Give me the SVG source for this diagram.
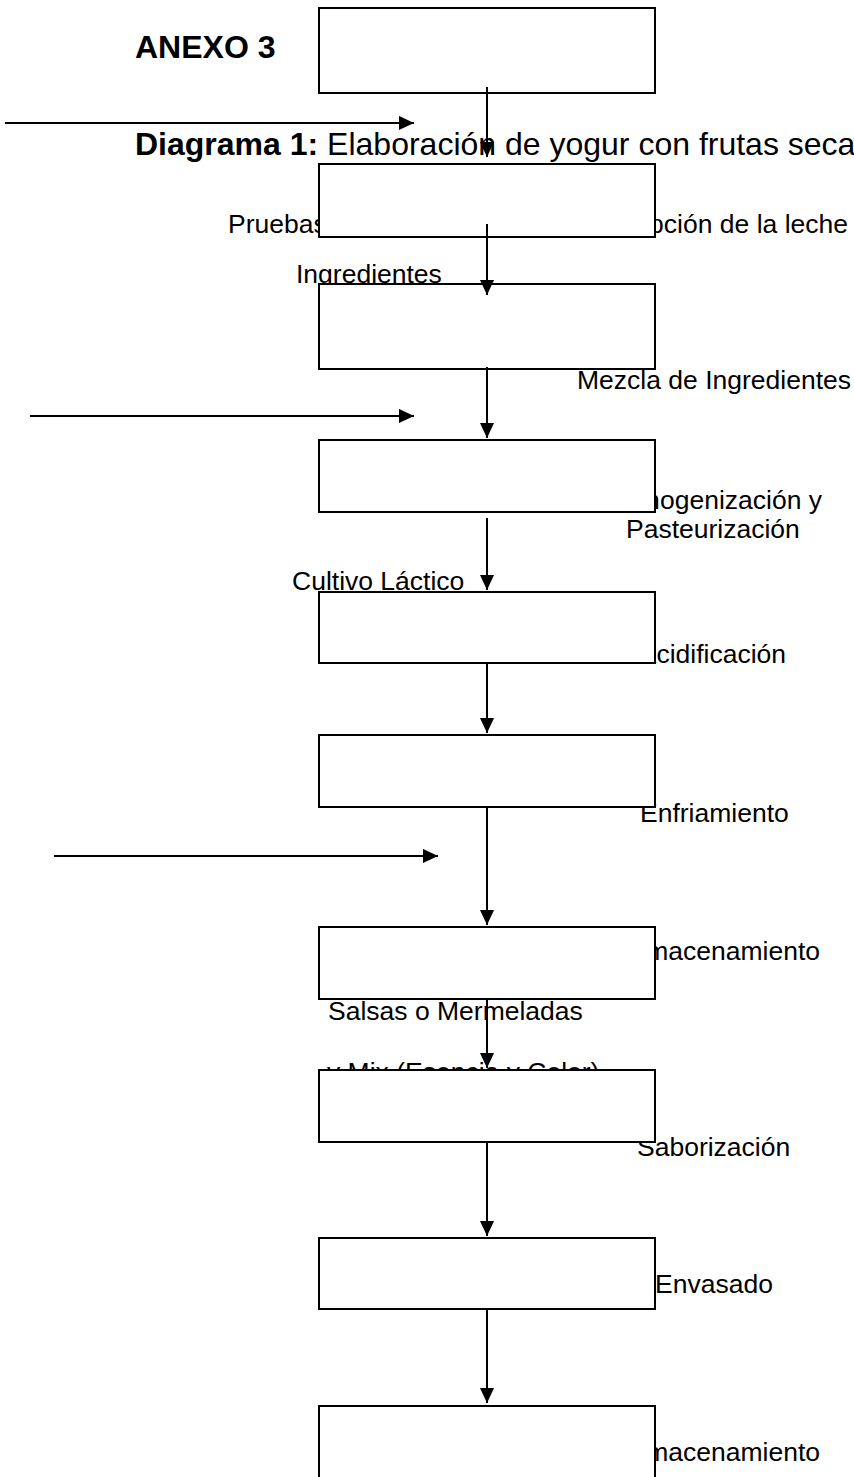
<svg xmlns="http://www.w3.org/2000/svg" width="854" height="1477" viewBox="0 0 854 1477">
<defs>
<style>
.lbl{font-family:"Liberation Sans",Arial,sans-serif;font-size:26.5px;fill:#000}
.ttl{font-family:"Liberation Sans",Arial,sans-serif;font-size:32px;fill:#000}
.box{fill:#fff;stroke:#000;stroke-width:2}
.ln{stroke:#000;stroke-width:2;fill:none}
</style>
<marker id="ah" viewBox="0 0 10 10" refX="10" refY="5" markerWidth="15" markerHeight="15" markerUnits="userSpaceOnUse" orient="auto">
<path d="M0,0.3 L10,5 L0,9.7 z" fill="#000"/>
</marker>
</defs>
<g id="labels">
<text class="ttl" x="135" y="58" font-weight="bold">ANEXO 3</text>
<text class="ttl" x="135" y="155"><tspan font-weight="bold">Diagrama 1:</tspan> Elaboración de yogur con frutas secas</text>
<text class="lbl" x="228" y="233">Pruebas</text>
<text class="lbl" x="848" y="233" text-anchor="end">Recepción de la leche</text>
<text class="lbl" x="296" y="283">Ingredientes</text>
<text class="lbl" x="577" y="389">Mezcla de Ingredientes</text>
<text class="lbl" x="822" y="509" text-anchor="end">Homogenización y</text>
<text class="lbl" x="626" y="538">Pasteurización</text>
<text class="lbl" x="292" y="590">Cultivo Láctico</text>
<text class="lbl" x="786" y="663" text-anchor="end">Acidificación</text>
<text class="lbl" x="640" y="822">Enfriamiento</text>
<text class="lbl" x="820" y="960" text-anchor="end">Almacenamiento</text>
<text class="lbl" x="328" y="1020">Salsas o Mermeladas</text>
<text class="lbl" x="327" y="1081">y Mix (Esencia y Color)</text>
<text class="lbl" x="637" y="1156">Saborización</text>
<text class="lbl" x="655" y="1293">Envasado</text>
<text class="lbl" x="820" y="1461" text-anchor="end">Almacenamiento</text>
</g>
<g id="n1"><rect class="box" x="319" y="8" width="336" height="85"/></g>
<g id="n2"><rect class="box" x="319" y="164" width="336" height="73"/></g>
<g id="n3"><rect class="box" x="319" y="284" width="336" height="85"/></g>
<g id="n4"><rect class="box" x="319" y="440" width="336" height="72"/></g>
<g id="n5"><rect class="box" x="319" y="592" width="336" height="71"/></g>
<g id="n6"><rect class="box" x="319" y="735" width="336" height="72"/></g>
<g id="n7"><rect class="box" x="319" y="927" width="336" height="72"/></g>
<g id="n8"><rect class="box" x="319" y="1070" width="336" height="72"/></g>
<g id="n9"><rect class="box" x="319" y="1238" width="336" height="71"/></g>
<g id="n10"><rect class="box" x="319" y="1406" width="336" height="80"/></g>
<g id="connectors">
<line class="ln" x1="487" y1="87" x2="487" y2="157" marker-end="url(#ah)"/>
<line class="ln" x1="487" y1="224" x2="487" y2="295" marker-end="url(#ah)"/>
<line class="ln" x1="487" y1="367" x2="487" y2="438" marker-end="url(#ah)"/>
<line class="ln" x1="487" y1="518" x2="487" y2="590" marker-end="url(#ah)"/>
<line class="ln" x1="487" y1="663" x2="487" y2="733" marker-end="url(#ah)"/>
<line class="ln" x1="487" y1="807" x2="487" y2="925" marker-end="url(#ah)"/>
<line class="ln" x1="487" y1="999" x2="487" y2="1068" marker-end="url(#ah)"/>
<line class="ln" x1="487" y1="1142" x2="487" y2="1236" marker-end="url(#ah)"/>
<line class="ln" x1="487" y1="1309" x2="487" y2="1403" marker-end="url(#ah)"/>
<line class="ln" x1="5" y1="123" x2="414" y2="123" marker-end="url(#ah)"/>
<line class="ln" x1="30" y1="416" x2="414" y2="416" marker-end="url(#ah)"/>
<line class="ln" x1="54" y1="856" x2="438" y2="856" marker-end="url(#ah)"/>
</g>
</svg>
